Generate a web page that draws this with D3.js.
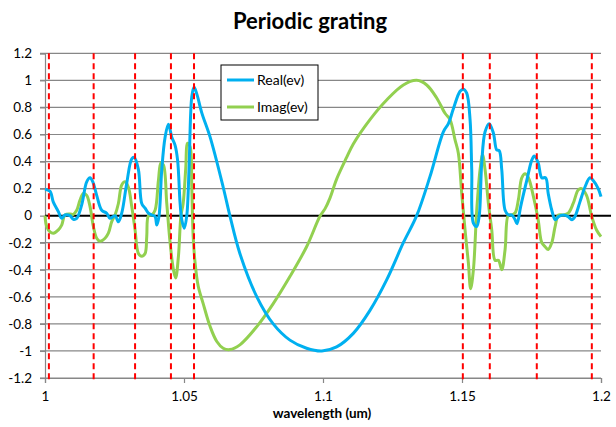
<!DOCTYPE html>
<html><head><meta charset="utf-8">
<script src="https://cdn.jsdelivr.net/npm/d3@7"></script>
<style>body{margin:0;background:#fff}svg{display:block}</style>
</head><body>
<script>
const title = "Periodic grating";
const xLabel = "wavelength (um)";
const seriesNames = ["Real(ev)", "Imag(ev)"];
const seriesColors = ["#00B0F0", "#92D050"];
const xTicks = [1, 1.05, 1.1, 1.15, 1.2];
const yTicks = [-1.2,-1,-0.8,-0.6,-0.4,-0.2,0,0.2,0.4,0.6,0.8,1,1.2];
const markerLines = [1.0014, 1.0175, 1.0324, 1.0453, 1.0536, 1.1503, 1.1600, 1.1769, 1.1967];

const realX = [1.0000,1.0018,1.0030,1.0048,1.0060,1.0072,1.0090,1.0102,1.0114,1.0132,1.0150,1.0162,1.0172,1.0186,1.0204,1.0222,1.0234,1.0252,1.0264,1.0276,1.0294,1.0312,1.0321,1.0336,1.0348,1.0360,1.0372,1.0384,1.0396,1.0402,1.0410,1.0420,1.0432,1.0444,1.0456,1.0468,1.0477,1.0486,1.0492,1.0501,1.0510,1.0518,1.0528,1.0536,1.0546,1.0564,1.0594,1.0641,1.0665,1.0701,1.0762,1.0821,1.0881,1.0941,1.0996,1.1049,1.1109,1.1169,1.1229,1.1289,1.1337,1.1385,1.1433,1.1451,1.1469,1.1493,1.1505,1.1517,1.1529,1.1535,1.1541,1.1553,1.1562,1.1571,1.1583,1.1598,1.1613,1.1625,1.1634,1.1643,1.1655,1.1667,1.1679,1.1691,1.1698,1.1711,1.1733,1.1751,1.1760,1.1774,1.1787,1.1801,1.1810,1.1823,1.1835,1.1847,1.1864,1.1882,1.1895,1.1906,1.1924,1.1942,1.1960,1.1972,1.1990,1.2000];
const realY = [0.195,0.18,0.10,0.03,-0.02,0.005,0,-0.027,-0.02,0.08,0.25,0.28,0.25,0.15,0.04,0.018,-0.02,0,-0.045,0.018,0.24,0.42,0.43,0.34,0.09,0.055,0.018,0.005,-0.007,-0.07,-0.007,0.34,0.58,0.675,0.58,0.52,0.41,0.09,-0.03,-0.093,0.0,0.34,0.88,0.95,0.9,0.76,0.58,0.21,0,-0.28,-0.6,-0.8,-0.92,-0.98,-1.0,-0.97,-0.87,-0.70,-0.475,-0.2,0,0.29,0.62,0.68,0.79,0.92,0.935,0.905,0.71,0.34,-0.056,-0.08,0,0.39,0.62,0.68,0.61,0.485,0.48,0.34,0.04,0.005,0.005,-0.03,-0.06,0.067,0.26,0.41,0.44,0.39,0.28,0.28,0.165,0.04,-0.03,-0.007,0.005,-0.007,-0.03,-0.007,0.10,0.21,0.28,0.26,0.2,0.14];

const imagX = [1.0000,1.0006,1.0018,1.0030,1.0048,1.0060,1.0072,1.0090,1.0102,1.0114,1.0126,1.0138,1.0150,1.0162,1.0174,1.0186,1.0198,1.0216,1.0228,1.0240,1.0252,1.0264,1.0276,1.0288,1.0300,1.0312,1.0324,1.0336,1.0348,1.0360,1.0366,1.0372,1.0384,1.0396,1.0408,1.0417,1.0426,1.0438,1.0450,1.0462,1.0470,1.0480,1.0489,1.0497,1.0506,1.0513,1.0522,1.0528,1.0533,1.0540,1.0551,1.0569,1.0594,1.0618,1.0641,1.0665,1.0701,1.0762,1.0821,1.0881,1.0941,1.0989,1.1007,1.1025,1.1037,1.1049,1.1085,1.1109,1.1169,1.1229,1.1289,1.1337,1.1373,1.1409,1.1439,1.1457,1.1475,1.1487,1.1499,1.1511,1.1523,1.1531,1.1541,1.1553,1.1565,1.1574,1.1583,1.1595,1.1607,1.1619,1.1631,1.1643,1.1655,1.1667,1.1679,1.1691,1.1703,1.1715,1.1727,1.1739,1.1757,1.1774,1.1787,1.1799,1.1810,1.1823,1.1835,1.1847,1.1864,1.1882,1.1900,1.1918,1.1930,1.1948,1.1966,1.1984,1.2000];
const imagY = [0,-0.08,-0.12,-0.13,-0.105,-0.07,0.005,0.012,0.01,0.04,0.115,0.165,0.15,0.067,-0.08,-0.167,-0.19,-0.167,-0.13,-0.044,0.005,0.09,0.227,0.25,0.21,0.067,-0.105,-0.28,-0.30,-0.28,-0.155,0,0.005,0.04,0.26,0.39,0.375,0.09,-0.2,-0.4,-0.46,-0.3,0,0.09,0.34,0.535,0.51,0.21,-0.155,-0.35,-0.52,-0.65,-0.82,-0.93,-0.98,-0.99,-0.955,-0.82,-0.65,-0.45,-0.23,-0.005,0.05,0.13,0.2,0.27,0.43,0.53,0.71,0.855,0.966,1.0,0.966,0.87,0.757,0.71,0.56,0.46,0.165,-0.106,-0.35,-0.54,-0.4,0.04,0.34,0.45,0.34,0.09,-0.106,-0.33,-0.33,-0.4,-0.25,0.005,0.005,0.02,0.12,0.28,0.31,0.28,0.14,-0.03,-0.2,-0.23,-0.25,-0.2,-0.08,0.005,0.005,0.018,0.09,0.19,0.2,0.15,0,-0.106,-0.155];

const W = 616, H = 427;
const mLeft = 45, mRight = 601, mTop = 53.3, mBottom = 378;
const FONT = "Lato, 'Open Sans', sans-serif";
const svg = d3.select("body").append("svg").attr("width", W).attr("height", H)
  .style("font-family", FONT);

const x = d3.scaleLinear().domain([1, 1.2]).range([mLeft, mRight]);
const y = d3.scaleLinear().domain([-1.2, 1.2]).range([mBottom, mTop]);

// horizontal gridlines
svg.append("g").selectAll("line").data(yTicks.filter(v => v !== 0)).join("line")
  .attr("x1", mLeft - 5).attr("x2", mRight).attr("y1", d => y(d)).attr("y2", d => y(d))
  .attr("stroke", "#878787").attr("stroke-width", 1.2);

// y axis
const yAxis = d3.axisLeft(y).tickValues(yTicks).tickSize(5).tickFormat(d => String(+d.toFixed(1)));
const gy = svg.append("g").attr("transform", `translate(${mLeft},0)`).call(yAxis);
gy.select(".domain").attr("stroke", "#878787").attr("stroke-width", 1.2);
gy.selectAll(".tick line").attr("stroke", "#878787").attr("stroke-width", 1.2);
gy.selectAll(".tick text").attr("x", -13).attr("font-size", 13.5).attr("fill", "#000")
  .style("font-family", FONT);

// x axis
const xAxis = d3.axisBottom(x).tickValues(xTicks).tickSize(5).tickFormat(d => String(+d.toFixed(2)));
const gx = svg.append("g").attr("transform", `translate(0,${mBottom})`).call(xAxis);
gx.select(".domain").attr("stroke", "#878787").attr("stroke-width", 1.2);
gx.selectAll(".tick line").attr("stroke", "#878787").attr("stroke-width", 1.2);
gx.selectAll(".tick text").attr("y", 13).attr("font-size", 13.5).attr("fill", "#000")
  .style("font-family", FONT);

// zero line
svg.append("line").attr("x1", mLeft).attr("x2", mRight + 10).attr("y1", y(0)).attr("y2", y(0))
  .attr("stroke", "#000").attr("stroke-width", 2);

// series
const line = d3.line().x(d => x(d[0])).y(d => y(d[1])).curve(d3.curveCatmullRom.alpha(0.5));
const realData = realX.map((v, i) => [v, realY[i]]);
const imagData = imagX.map((v, i) => [v, imagY[i]]);
svg.append("path").datum(imagData).attr("d", line).attr("fill", "none")
  .attr("stroke", seriesColors[1]).attr("stroke-width", 3).attr("stroke-linejoin", "round");
svg.append("path").datum(realData).attr("d", line).attr("fill", "none")
  .attr("stroke", seriesColors[0]).attr("stroke-width", 3).attr("stroke-linejoin", "round");

// red dashed markers
svg.append("g").selectAll("line").data(markerLines).join("line")
  .attr("x1", d => x(d)).attr("x2", d => x(d)).attr("y1", mTop).attr("y2", mBottom + 2)
  .attr("stroke", "#FF0000").attr("stroke-width", 2).attr("stroke-dasharray", "6,4");

// title
svg.append("text").attr("x", 310).attr("y", 29).attr("text-anchor", "middle")
  .attr("font-size", 22).attr("font-weight", "bold").text(title);

// x label
svg.append("text").attr("x", 322).attr("y", 418).attr("text-anchor", "middle")
  .attr("font-size", 13.5).attr("font-weight", "bold").text(xLabel);

// legend
const lg = svg.append("g").attr("transform", "translate(221,65)");
lg.append("rect").attr("width", 97).attr("height", 55).attr("fill", "#fff").attr("stroke", "#000").attr("stroke-width", 1);
seriesNames.forEach((n, i) => {
  const yy = 15 + i * 27;
  lg.append("line").attr("x1", 6).attr("x2", 33).attr("y1", yy).attr("y2", yy)
    .attr("stroke", seriesColors[i]).attr("stroke-width", 3);
  lg.append("text").attr("x", 36).attr("y", yy + 5).attr("font-size", 14).text(n);
});
</script>
</body></html>
